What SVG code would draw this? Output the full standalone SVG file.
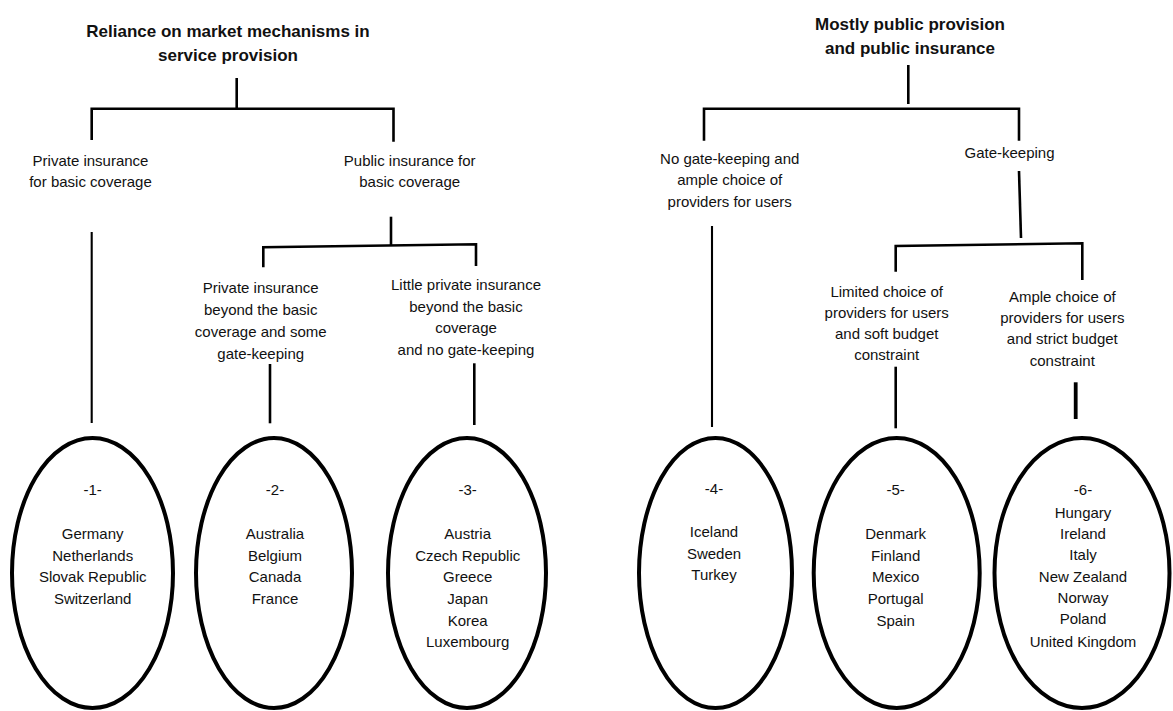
<svg xmlns="http://www.w3.org/2000/svg" width="1173" height="711" viewBox="0 0 1173 711">
<style>
  text { font-family: "Liberation Sans", Arial, sans-serif; fill: #111; text-anchor: middle; }
  .title { font-size: 17px; font-weight: bold; }
  .lbl { font-size: 15px; }
  .c { fill: none; stroke: #000; stroke-width: 2.6; }
  .thin { stroke-width: 2.1; }
  .thick { stroke-width: 3.8; }
  .ell { fill: #fff; stroke: #000; stroke-width: 4; }
</style>
<rect width="1173" height="711" fill="#fff"/>

<g id="connectors">
  <path class="c" d="M236.7 78 V109"/>
  <path class="c" d="M91.7 140 V108.7 H393.5 V141.7"/>
  <path class="c" d="M391 216.7 V246"/>
  <path class="c" d="M263.3 267.3 V247.3 L476 244.3 V266"/>
  <path class="c thin" d="M91.7 232 V423"/>
  <path class="c" d="M270 364 V423.3"/>
  <path class="c" d="M474.3 363.3 V425"/>
  <path class="c" d="M908.3 65 V104"/>
  <path class="c" d="M704 140.7 V108.7 H1019 V140.7"/>
  <path class="c" d="M1019 171 L1021 238"/>
  <path class="c" d="M895.7 271.7 V246 L1082.3 243.3 V280"/>
  <path class="c thin" d="M712 226 V427"/>
  <path class="c" d="M895.7 366.7 V428.3"/>
  <path class="c thick" d="M1075.7 382.3 V419"/>
</g>

<g id="title-market">
  <text class="title" x="228" y="37.3">Reliance on market mechanisms in</text>
  <text class="title" x="228" y="61">service provision</text>
</g>
<g id="title-public">
  <text class="title" x="910" y="30">Mostly public provision</text>
  <text class="title" x="910" y="54">and public insurance</text>
</g>

<g id="private-basic">
  <text class="lbl" x="90.5" y="165.7">Private insurance</text>
  <text class="lbl" x="90.5" y="187.3">for basic coverage</text>
</g>
<g id="public-basic">
  <text class="lbl" x="409.7" y="165.7">Public insurance for</text>
  <text class="lbl" x="409.7" y="187.3">basic coverage</text>
</g>
<g id="private-beyond">
  <text class="lbl" x="260.7" y="293.3">Private insurance</text>
  <text class="lbl" x="260.7" y="315.3">beyond the basic</text>
  <text class="lbl" x="260.7" y="337.3">coverage and some</text>
  <text class="lbl" x="260.7" y="359">gate-keeping</text>
</g>
<g id="little-private">
  <text class="lbl" x="466" y="290">Little private insurance</text>
  <text class="lbl" x="466" y="311.7">beyond the basic</text>
  <text class="lbl" x="466" y="333.3">coverage</text>
  <text class="lbl" x="466" y="355">and no gate-keeping</text>
</g>
<g id="no-gatekeeping">
  <text class="lbl" x="729.7" y="164">No gate-keeping and</text>
  <text class="lbl" x="729.7" y="185.3">ample choice of</text>
  <text class="lbl" x="729.7" y="206.7">providers for users</text>
</g>
<g id="gatekeeping">
  <text class="lbl" x="1009.5" y="158.3">Gate-keeping</text>
</g>
<g id="limited-choice">
  <text class="lbl" x="886.7" y="296.7">Limited choice of</text>
  <text class="lbl" x="886.7" y="317.7">providers for users</text>
  <text class="lbl" x="886.7" y="339">and soft budget</text>
  <text class="lbl" x="886.7" y="360">constraint</text>
</g>
<g id="ample-choice">
  <text class="lbl" x="1062.3" y="301.7">Ample choice of</text>
  <text class="lbl" x="1062.3" y="322.7">providers for users</text>
  <text class="lbl" x="1062.3" y="344.3">and strict budget</text>
  <text class="lbl" x="1062.3" y="365.7">constraint</text>
</g>

<g id="group-1">
  <ellipse class="ell" cx="92.5" cy="573" rx="80.5" ry="135"/>
  <text class="lbl" x="92.7" y="495">-1-</text>
  <text class="lbl" x="92.7" y="539">Germany</text>
  <text class="lbl" x="92.7" y="560.7">Netherlands</text>
  <text class="lbl" x="92.7" y="582.3">Slovak Republic</text>
  <text class="lbl" x="92.7" y="604">Switzerland</text>
</g>
<g id="group-2">
  <ellipse class="ell" cx="274" cy="573" rx="78" ry="135"/>
  <text class="lbl" x="275" y="495">-2-</text>
  <text class="lbl" x="275" y="539">Australia</text>
  <text class="lbl" x="275" y="560.7">Belgium</text>
  <text class="lbl" x="275" y="582.3">Canada</text>
  <text class="lbl" x="275" y="604">France</text>
</g>
<g id="group-3">
  <ellipse class="ell" cx="467" cy="573" rx="79" ry="135"/>
  <text class="lbl" x="467.7" y="495">-3-</text>
  <text class="lbl" x="467.7" y="539">Austria</text>
  <text class="lbl" x="467.7" y="560.7">Czech Republic</text>
  <text class="lbl" x="467.7" y="582.3">Greece</text>
  <text class="lbl" x="467.7" y="604">Japan</text>
  <text class="lbl" x="467.7" y="625.7">Korea</text>
  <text class="lbl" x="467.7" y="647.3">Luxembourg</text>
</g>
<g id="group-4">
  <ellipse class="ell" cx="715.5" cy="573" rx="76.5" ry="135"/>
  <text class="lbl" x="714" y="494">-4-</text>
  <text class="lbl" x="714" y="537">Iceland</text>
  <text class="lbl" x="714" y="558.7">Sweden</text>
  <text class="lbl" x="714" y="580.3">Turkey</text>
</g>
<g id="group-5">
  <ellipse class="ell" cx="896.7" cy="573" rx="83" ry="135"/>
  <text class="lbl" x="895.7" y="495">-5-</text>
  <text class="lbl" x="895.7" y="539">Denmark</text>
  <text class="lbl" x="895.7" y="560.7">Finland</text>
  <text class="lbl" x="895.7" y="582.3">Mexico</text>
  <text class="lbl" x="895.7" y="604">Portugal</text>
  <text class="lbl" x="895.7" y="625.7">Spain</text>
</g>
<g id="group-6">
  <ellipse class="ell" cx="1082" cy="573" rx="87.5" ry="135"/>
  <text class="lbl" x="1083" y="495">-6-</text>
  <text class="lbl" x="1083" y="517.7">Hungary</text>
  <text class="lbl" x="1083" y="539">Ireland</text>
  <text class="lbl" x="1083" y="560.3">Italy</text>
  <text class="lbl" x="1083" y="581.7">New Zealand</text>
  <text class="lbl" x="1083" y="603.3">Norway</text>
  <text class="lbl" x="1083" y="624.3">Poland</text>
  <text class="lbl" x="1083" y="646.7">United Kingdom</text>
</g>
</svg>
